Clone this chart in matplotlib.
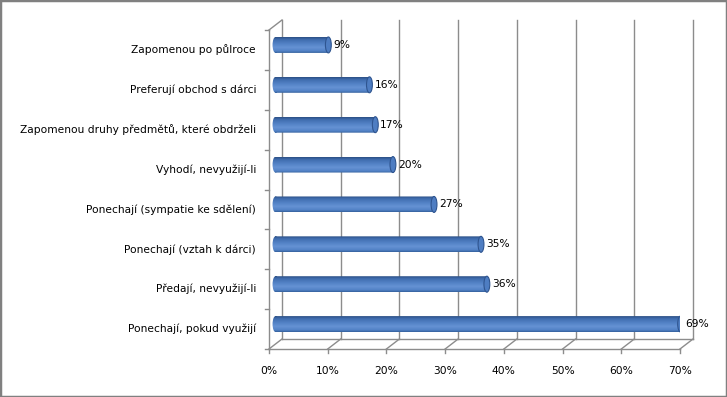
import matplotlib
matplotlib.use("Agg")
import matplotlib.pyplot as plt
import matplotlib.transforms as mtransforms
from matplotlib.patches import Rectangle, Ellipse, Path, PathPatch
from matplotlib.colors import LinearSegmentedColormap
import numpy as np

# data, bottom to top as drawn
categories = ["Ponechají, pokud využijí", "Předají, nevyužijí-li",
              "Ponechají (vztah k dárci)", "Ponechají (sympatie ke sdělení)",
              "Vyhodí, nevyužijí-li", "Zapomenou druhy předmětů, které obdrželi",
              "Preferují obchod s dárci", "Zapomenou po půlroce"]
values = [69, 36, 35, 27, 20, 17, 16, 9]
xticks = [0, 10, 20, 30, 40, 50, 60, 70]

plt.rcParams['font.family'] = ['DejaVu Sans']
fs = 7.7
grid_c = "#8c8c8c"

fig = plt.figure(figsize=(7.27, 3.97), dpi=100)
fig.patch.set_facecolor("white")
fig.add_artist(Rectangle((0, 0), 1, 1, transform=fig.transFigure, fill=False,
                         edgecolor="#808080", lw=2.5))

ax = fig.add_axes([269/727, 48/397, 411/727, 319/397])
ax.set_xlim(0, 70)
ax.set_ylim(0, 8)
ax.axis("off")

# 3d depth of the plot box, in pixels
DX, DY = 13, 10
back = mtransforms.offset_copy(ax.transData, fig=fig, x=DX, y=DY, units="dots")
mid = mtransforms.offset_copy(ax.transData, fig=fig, x=DX/2, y=DY/2, units="dots")

kw = dict(color=grid_c, lw=1, clip_on=False)
# back wall gridlines
for t in xticks:
    ax.plot([t, t], [0, 8], transform=back, **kw)
# floor
ax.plot([0, 70], [0, 0], **kw)
ax.plot([0, 70], [0, 0], transform=back, **kw)
inv = ax.transData.inverted()
for t in xticks:
    p0 = ax.transData.transform((t, 0))
    q1 = inv.transform(p0 + np.array([DX, DY]))
    ax.plot([t, q1[0]], [0, q1[1]], **kw)
    ax.plot([t, t], [0, -0.1], **kw)
    ax.text(t, -0.55, f"{t}%", ha="center", va="center", fontsize=fs)
# left wall
ax.plot([0, 0], [0, 8], **kw)
q1 = inv.transform(ax.transData.transform((0, 8)) + np.array([DX, DY]))
ax.plot([0, q1[0]], [8, q1[1]], **kw)
for k in range(9):
    ax.plot([-0.6, 0], [k, k], **kw)

# cylinder bars
cmap = LinearSegmentedColormap.from_list("cyl", [
    (0.0, "#34609c"), (0.12, "#5282c6"), (0.35, "#6592d4"),
    (0.55, "#5584c8"), (0.85, "#3f6cae"), (1.0, "#2c4f84")])
grad = np.linspace(1, 0, 64).reshape(-1, 1)
h = 0.4
ew = 1.0
for i, (cat, v) in enumerate(zip(categories, values)):
    c = i + 0.5
    body = Path.make_compound_path(
        Path.unit_rectangle().transformed(
            mtransforms.Affine2D().scale(v, h).translate(0, c - h/2)),
        Path.unit_circle().transformed(
            mtransforms.Affine2D().scale(ew/2, h/2).translate(0, c)))
    pp = PathPatch(body, transform=mid, facecolor="none", edgecolor="none")
    ax.add_patch(pp)
    im = ax.imshow(grad, cmap=cmap, aspect="auto", extent=(-ew, v, c - h/2, c + h/2),
                   transform=mid, interpolation="bilinear", zorder=3)
    im.set_clip_path(pp)
    cap = Ellipse((v, c), ew, h, transform=mid, facecolor="#4e7dc2",
                  edgecolor="#2f5590", lw=0.8, zorder=4)
    ax.add_patch(cap)
    ax.text(v + 0.85, c, f"{v}%", transform=mid, ha="left", va="center",
            fontsize=fs, zorder=5)
    ax.text(-2.2, c, cat, ha="right", va="center", fontsize=fs)

ax.set_xlim(0, 70)
ax.set_ylim(0, 8)
fig.savefig("out.png", dpi=100)
